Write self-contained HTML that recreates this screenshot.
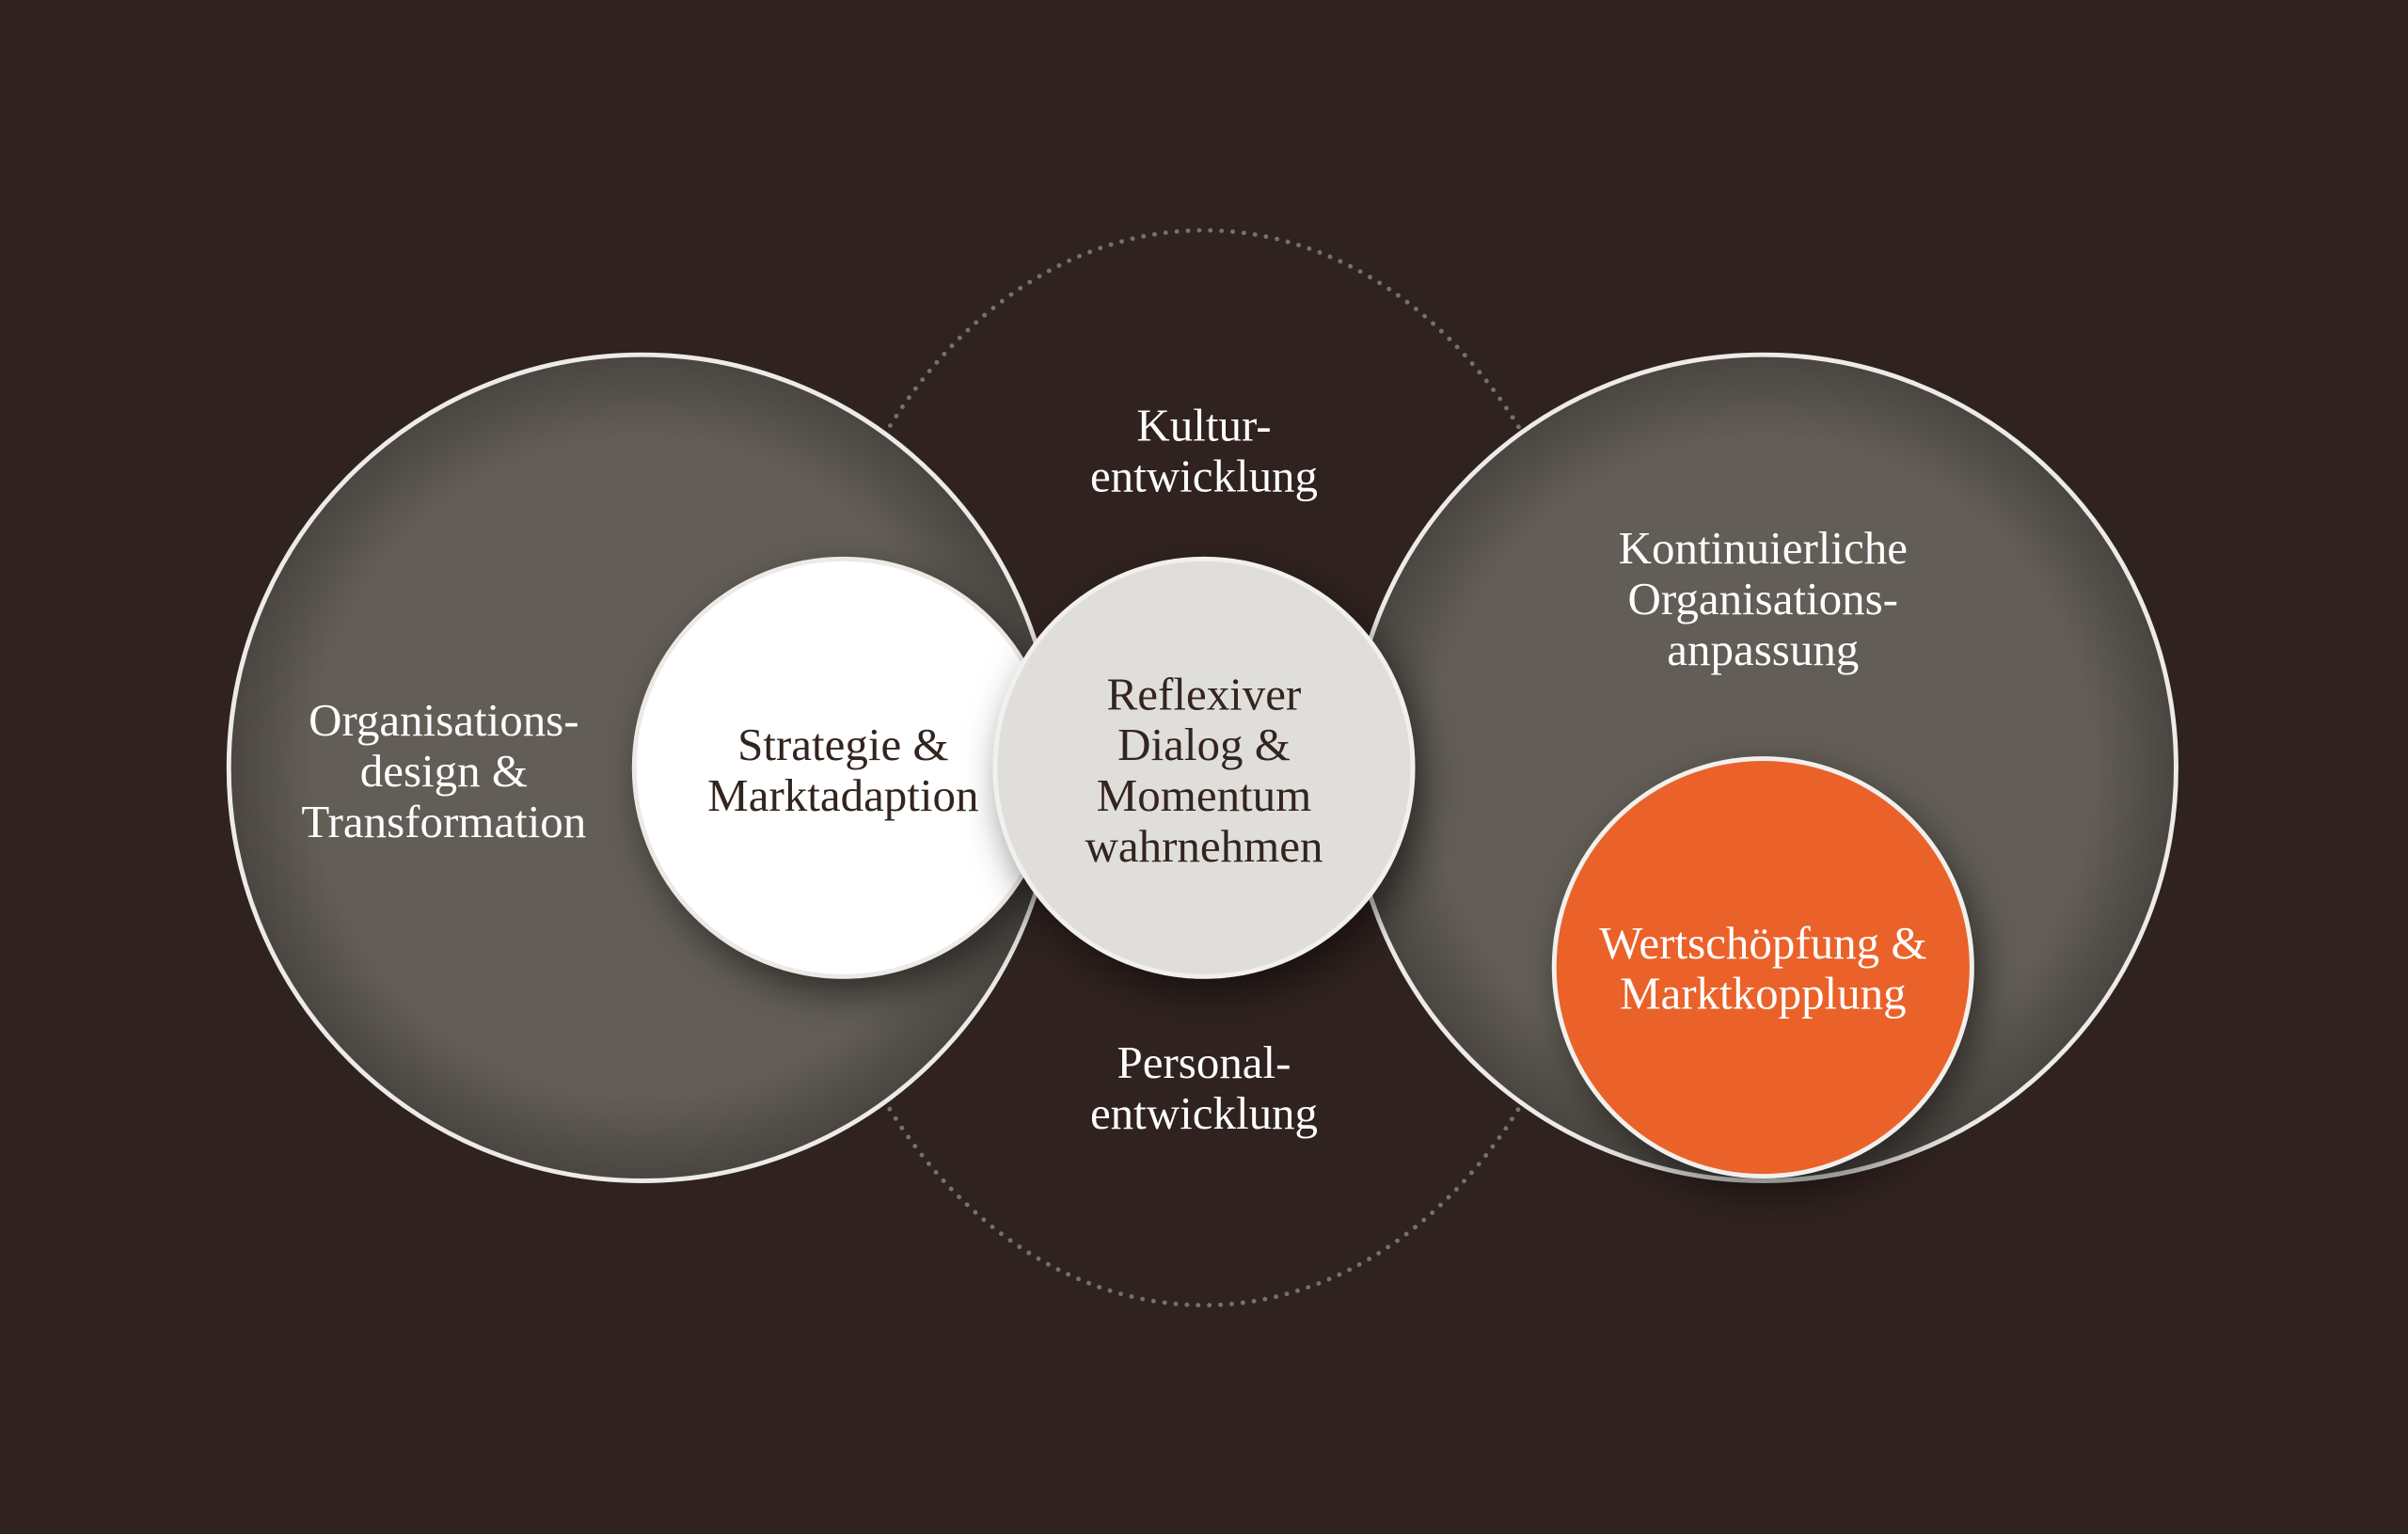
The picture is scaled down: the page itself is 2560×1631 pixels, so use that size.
<!DOCTYPE html>
<html><head><meta charset="utf-8"><style>
html,body{margin:0;padding:0;background:#30221f;}
svg{display:block;}
text{font-family:"Liberation Serif",serif;font-size:30px;text-anchor:middle;}
</style></head><body>
<svg width="2560" height="1631" viewBox="0 0 1568 999" preserveAspectRatio="none" xmlns="http://www.w3.org/2000/svg">
<defs>
<radialGradient id="g" cx="50%" cy="50%" r="50%">
<stop offset="0.8" stop-color="#625d56"/>
<stop offset="1" stop-color="#4a4540"/>
</radialGradient>
<filter id="sh" x="-30%" y="-30%" width="160%" height="160%">
<feDropShadow dx="6" dy="10" stdDeviation="12" flood-color="#000" flood-opacity="0.5"/>
</filter>
</defs>
<rect width="1568" height="999" fill="#30221f"/>
<ellipse cx="784" cy="500" rx="265" ry="350" fill="none" stroke="#7a706b" stroke-width="3" stroke-dasharray="0 7.3" stroke-linecap="round"/>
<circle cx="418" cy="500" r="269" fill="url(#g)" stroke="#ecebe8" stroke-width="3"/>
<circle cx="1148" cy="500" r="269" fill="url(#g)" stroke="#ecebe8" stroke-width="3"/>
<circle cx="549" cy="500" r="136" fill="#ffffff" stroke="#ece9e6" stroke-width="3" filter="url(#sh)"/>
<circle cx="784" cy="500" r="136" fill="#dfdeda" stroke="#f2f0ed" stroke-width="3" filter="url(#sh)"/>
<circle cx="1148" cy="630" r="136" fill="#ea622b" stroke="#f2f0ed" stroke-width="3" filter="url(#sh)"/>
<g fill="#ffffff">
<text x="289" y="479">Organisations-</text>
<text x="289" y="512">design &amp;</text>
<text x="289" y="545">Transformation</text>
<text x="784" y="287" font-size="28">Kultur-</text>
<text x="784" y="320" font-size="28">entwicklung</text>
<text x="784" y="702" font-size="28">Personal-</text>
<text x="784" y="735" font-size="28">entwicklung</text>
<text x="1148" y="367">Kontinuierliche</text>
<text x="1148" y="400">Organisations-</text>
<text x="1148" y="433">anpassung</text>
<text x="1148" y="624">Wertschöpfung &amp;</text>
<text x="1148" y="657">Marktkopplung</text>
</g>
<g fill="#33241f">
<text x="549" y="495">Strategie &amp;</text>
<text x="549" y="528">Marktadaption</text>
<text x="784" y="462">Reflexiver</text>
<text x="784" y="495">Dialog &amp;</text>
<text x="784" y="528">Momentum</text>
<text x="784" y="561">wahrnehmen</text>
</g>
</svg>
</body></html>
